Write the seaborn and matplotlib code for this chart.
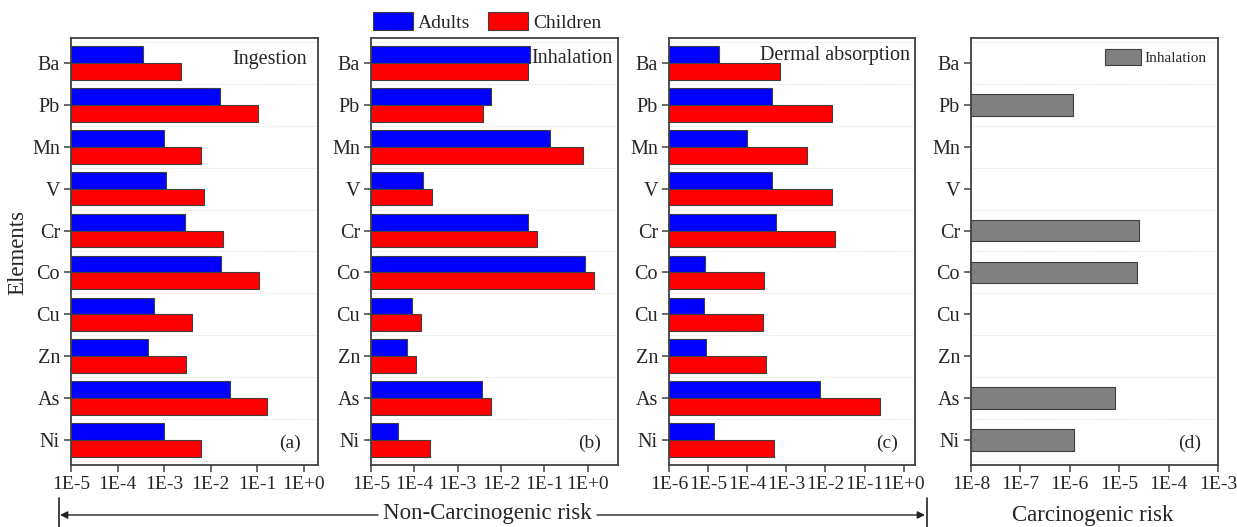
import numpy as np
import pandas as pd
import matplotlib
matplotlib.use("Agg")
import matplotlib.pyplot as plt
from matplotlib.ticker import FixedLocator, NullLocator
import seaborn as sns

# ---- data ---------------------------------------------------------------
elements = ["Ba", "Pb", "Mn", "V", "Cr", "Co", "Cu", "Zn", "As", "Ni"]
groups = ["Adults", "Children"]

ingestion_adults = [3.5e-4, 1.6e-2, 1.0e-3, 1.07e-3, 2.75e-3, 1.65e-2, 6.0e-4, 4.6e-4, 2.6e-2, 1.0e-3]
ingestion_children = [2.3e-3, 1.05e-1, 6.3e-3, 7.0e-3, 1.8e-2, 1.07e-1, 3.9e-3, 3.0e-3, 1.6e-1, 6.3e-3]

inhalation_adults = [4.7e-2, 6.0e-3, 1.35e-1, 1.6e-4, 4.3e-2, 8.7e-1, 8.9e-5, 6.8e-5, 3.7e-3, 4.1e-5]
inhalation_children = [4.2e-2, 3.9e-3, 7.8e-1, 2.6e-4, 6.9e-2, 1.41, 1.4e-4, 1.1e-4, 6.0e-3, 2.3e-4]

dermal_adults = [1.95e-5, 4.2e-4, 9.8e-5, 4.2e-4, 5.4e-4, 8.1e-6, 7.8e-6, 8.9e-6, 7.2e-3, 1.4e-5]
dermal_children = [6.8e-4, 1.45e-2, 3.3e-3, 1.45e-2, 1.8e-2, 2.75e-4, 2.6e-4, 3.0e-4, 2.45e-1, 4.9e-4]

# carcinogenic risk via inhalation (NaN where not assessed)
carcinogenic_inhalation = [np.nan, 1.14e-6, np.nan, np.nan, 2.5e-5, 2.3e-5, np.nan, np.nan, 8.3e-6, 1.2e-6]

noncarc_ticks = [1e-5, 1e-4, 1e-3, 1e-2, 1e-1, 1e0]
noncarc_labels = ["1E-5", "1E-4", "1E-3", "1E-2", "1E-1", "1E+0"]
dermal_ticks = [1e-6, 1e-5, 1e-4, 1e-3, 1e-2, 1e-1, 1e0]
dermal_labels = ["1E-6", "1E-5", "1E-4", "1E-3", "1E-2", "1E-1", "1E+0"]
carc_ticks = [1e-8, 1e-7, 1e-6, 1e-5, 1e-4, 1e-3]
carc_labels = ["1E-8", "1E-7", "1E-6", "1E-5", "1E-4", "1E-3"]


def long_form(adults, children):
    return pd.DataFrame({
        "element": elements * 2,
        "group": [groups[0]] * len(elements) + [groups[1]] * len(elements),
        "risk": list(adults) + list(children),
    })


df_ing = long_form(ingestion_adults, ingestion_children)
df_inh = long_form(inhalation_adults, inhalation_children)
df_der = long_form(dermal_adults, dermal_children)
df_carc = pd.DataFrame({"element": elements, "route": "Inhalation",
                        "risk": carcinogenic_inhalation})

# ---- style --------------------------------------------------------------
sns.set_style("ticks")
plt.rcParams["font.family"] = ["Liberation Serif", "DejaVu Serif"]

W, H = 1237, 527
fig = plt.figure(figsize=(W / 100, H / 100), dpi=100)


def px_axes(x0, x1, y0=38, y1=465):
    return fig.add_axes([x0 / W, 1 - y1 / H, (x1 - x0) / W, (y1 - y0) / H])


ax_a = px_axes(71, 318)
ax_b = px_axes(371, 618)
ax_c = px_axes(669, 915)
ax_d = px_axes(971, 1218)

palette = {"Adults": "#0000FF", "Children": "#FF0000"}
edge = "#3f3f3f"


def style_axes(ax, ticks, labels, xlim):
    ax.set_xscale("log")
    ax.set_xlim(*xlim)
    ax.xaxis.set_major_locator(FixedLocator(ticks))
    ax.xaxis.set_minor_locator(NullLocator())
    ax.set_xticklabels(labels)
    ax.set_ylim(9.6, -0.6)
    ax.set_xlabel("")
    ax.set_ylabel("")
    for y in np.arange(-0.5, 10.0, 1.0):
        ax.axhline(y, color="#e2e2e2", lw=0.7, ls=(0, (1, 1)), zorder=0)
    for s in ax.spines.values():
        s.set_visible(True)
        s.set_color("#404040")
        s.set_linewidth(1.3)
    ax.tick_params(axis="both", which="major", direction="out", length=5,
                   width=1.1, color="#404040", labelsize=14, pad=3)
    ax.tick_params(axis="y", labelsize=14.5)


def pair_panel(ax, df, legend):
    sns.barplot(data=df, x="risk", y="element", hue="group", order=elements,
                hue_order=groups, palette=palette, orient="h", errorbar=None,
                width=0.8, edgecolor=edge, linewidth=0.8, saturation=1,
                legend=legend, ax=ax, zorder=2)


pair_panel(ax_a, df_ing, False)
style_axes(ax_a, noncarc_ticks, noncarc_labels, (1e-5, 2.0))

pair_panel(ax_b, df_inh, True)
style_axes(ax_b, noncarc_ticks, noncarc_labels, (1e-5, 5.0))

pair_panel(ax_c, df_der, False)
style_axes(ax_c, dermal_ticks, dermal_labels, (1e-6, 1.95))

sns.barplot(data=df_carc, x="risk", y="element", hue="route", order=elements,
            palette={"Inhalation": "#808080"}, orient="h", errorbar=None,
            width=0.52, edgecolor=edge, linewidth=0.8, saturation=1,
            ax=ax_d, zorder=2)
style_axes(ax_d, carc_ticks, carc_labels, (1e-8, 1e-3))

# legends
sns.move_legend(ax_b, "center", bbox_to_anchor=(487 / W, 1 - 22 / H),
                bbox_transform=fig.transFigure, ncol=2, frameon=False,
                title=None, fontsize=14, handlelength=2.05, handleheight=1.0,
                handletextpad=0.25, columnspacing=0.95, borderpad=0.0)
sns.move_legend(ax_d, "upper right", bbox_to_anchor=(1.0, 1.0), frameon=False,
                title=None, fontsize=11, handlelength=2.35, handleheight=1.15,
                handletextpad=0.25, borderaxespad=0.55, borderpad=0.2)
for ax in (ax_b, ax_d):
    for h in ax.get_legend().get_patches():
        h.set_edgecolor(edge)
        h.set_linewidth(0.8)

# panel captions
ax_a.text(0.955, 0.972, "Ingestion", transform=ax_a.transAxes, ha="right",
          va="top", fontsize=14.5)
ax_b.text(0.978, 0.975, "Inhalation", transform=ax_b.transAxes, ha="right",
          va="top", fontsize=14.5)
ax_c.text(0.98, 0.982, "Dermal absorption", transform=ax_c.transAxes,
          ha="right", va="top", fontsize=14.5)
for ax, tag in zip((ax_a, ax_b, ax_c, ax_d), ("(a)", "(b)", "(c)", "(d)")):
    ax.text(0.93, 0.03, tag, transform=ax.transAxes, ha="right", va="bottom",
            fontsize=14)

# shared labels
fig.text(18 / W, 1 - 252 / H, "Elements", rotation=90, ha="center",
         va="center", fontsize=16.5)
fig.text(487 / W, 1 - 513 / H, "Non-Carcinogenic risk", ha="center",
         va="center", fontsize=16.5)
fig.text(1093 / W, 1 - 515 / H, "Carcinogenic risk", ha="center",
         va="center", fontsize=16.5)

# bracket arrows spanning the non-carcinogenic panels
y_arr = 1 - 515 / H
arrow_kw = dict(arrowstyle="-|>", lw=1.0, color="#222222",
                mutation_scale=11, shrinkA=0, shrinkB=0)
fig.add_artist(matplotlib.patches.FancyArrowPatch(
    (378 / W, y_arr), (60 / W, y_arr), transform=fig.transFigure, **arrow_kw))
fig.add_artist(matplotlib.patches.FancyArrowPatch(
    (597 / W, y_arr), (925 / W, y_arr), transform=fig.transFigure, **arrow_kw))
for xb in (58.5, 926.5):
    fig.add_artist(matplotlib.lines.Line2D(
        [xb / W, xb / W], [1 - 498 / H, 0.0], transform=fig.transFigure,
        color="#222222", lw=1.2))

fig.savefig("out.png", dpi=100)
